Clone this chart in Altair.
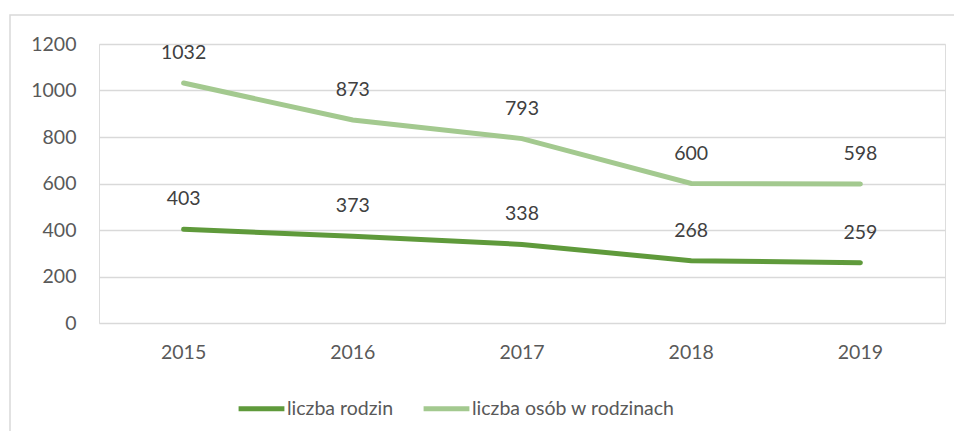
import altair as alt
import pandas as pd

years = ["2015", "2016", "2017", "2018", "2019"]
rodziny = [403, 373, 338, 268, 259]
osoby = [1032, 873, 793, 600, 598]
series_names = ["liczba rodzin", "liczba osób w rodzinach"]
series_colors = ["#5f9a3b", "#a3c98f"]

rows = []
for y, a, b in zip(years, rodziny, osoby):
    rows.append({"rok": y, "seria": series_names[0], "wartosc": a})
    rows.append({"rok": y, "seria": series_names[1], "wartosc": b})
df = pd.DataFrame(rows)

FONT = "Lato"
FS = 19.5

x_enc = alt.X("rok:N", sort=years, title=None,
              scale=alt.Scale(type="band", paddingInner=0, paddingOuter=0),
              axis=alt.Axis(labelAngle=0, ticks=False, domain=False, labelPadding=20,
                            labelFontSize=FS, labelColor="#595959", labelFont=FONT))
y_enc = alt.Y("wartosc:Q", title=None,
              scale=alt.Scale(domain=[0, 1200], nice=False),
              axis=alt.Axis(values=[0, 200, 400, 600, 800, 1000, 1200], format="d",
                            ticks=False, domain=False,
                            labelPadding=23, labelFontSize=FS, labelColor="#595959", labelFont=FONT,
                            gridColor="#d9d9d9", gridWidth=1.5))

lines = alt.Chart(df).mark_line(strokeWidth=5, strokeCap="round").encode(
    x=x_enc,
    y=y_enc,
    color=alt.Color("seria:N", sort=series_names,
                    scale=alt.Scale(domain=series_names, range=series_colors),
                    legend=alt.Legend(title=None, orient="none", legendX=137, legendY=339,
                                      direction="horizontal", symbolType="stroke",
                                      symbolSize=2100, symbolStrokeWidth=5,
                                      labelFontSize=FS, labelColor="#595959", labelFont=FONT,
                                      labelOffset=0, columnPadding=19, labelLimit=400)),
)

labels = alt.Chart(df).mark_text(dy=-30, fontSize=FS, color="#404040", font=FONT).encode(
    x=alt.X("rok:N", sort=years),
    y=alt.Y("wartosc:Q"),
    text=alt.Text("wartosc:Q"),
)

border = alt.Chart(pd.DataFrame({"a": [0]})).mark_rect(
    fill=None, stroke="#d9d9d9", strokeWidth=1.5
).encode(x=alt.value(-89), x2=alt.value(2000), y=alt.value(-29), y2=alt.value(2000))

chart = alt.layer(border, lines, labels).properties(
    width=846, height=279,
    autosize=alt.AutoSizeParams(type="none"),
    padding={"left": 91, "top": 36, "right": 9, "bottom": 108},
).configure_view(stroke=None).configure(background="white")

chart.save("out.html", embed_options={"renderer": "svg", "actions": False})
